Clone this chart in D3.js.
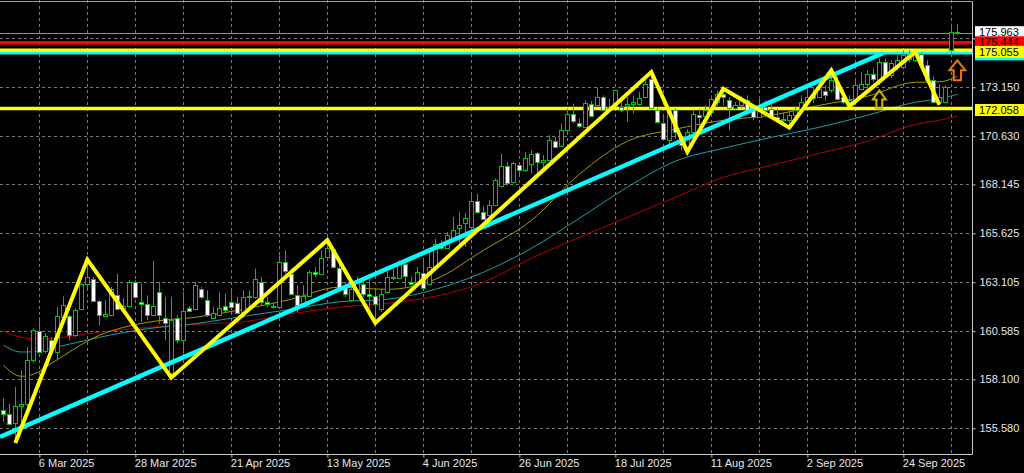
<!DOCTYPE html>
<html><head><meta charset="utf-8">
<script src="https://cdn.jsdelivr.net/npm/d3@7"></script>
<style>html,body{margin:0;padding:0;background:#000;overflow:hidden}</style>
</head><body>
<svg id="c" width="1024" height="473"></svg>
<script>
// ---- DATA (EUR/JPY daily) ----
const open=[156.51,156.34,155.85,156.72,156.82,159.08,160.59,159.56,160.15,159.50,
161.32,161.35,160.37,161.75,163.00,163.29,162.12,161.37,161.40,162.43,
161.75,161.87,163.12,162.09,162.01,161.40,162.60,161.28,158.45,161.28,
160.11,161.78,161.75,162.78,162.21,161.28,161.40,161.87,162.09,162.06,
161.57,162.32,162.35,163.12,162.09,161.88,161.83,164.15,163.52,162.43,
161.92,162.40,163.63,163.55,164.41,164.84,163.86,162.86,162.18,162.73,
163.04,162.52,162.40,161.75,162.60,163.37,163.34,164.03,163.12,163.04,
163.58,163.04,163.89,165.13,164.89,165.36,165.92,166.16,165.95,167.29,
166.73,166.56,167.07,168.05,169.08,168.27,169.13,168.91,169.22,169.77,
169.30,169.42,170.38,170.11,170.97,171.79,171.33,171.10,172.31,172.22,
172.65,172.00,172.17,172.13,172.17,172.31,172.31,172.65,173.60,171.97,
171.31,170.42,171.97,170.63,169.90,170.85,171.71,171.66,171.88,172.40,
172.80,172.48,172.10,172.22,172.48,172.05,171.62,172.13,172.05,171.62,
171.54,171.45,171.74,172.00,172.39,172.74,172.65,172.96,172.99,173.42,
172.65,172.39,172.50,173.08,173.30,173.82,173.42,174.45,173.77,174.23,
174.20,174.63,174.58,174.89,174.28,173.51,172.39,172.39,175.09,176.00];
const high=[157.13,156.85,157.71,158.57,159.77,160.73,161.30,160.48,160.27,161.83,
162.38,161.45,161.76,163.07,164.27,163.38,162.21,162.18,162.86,163.55,
162.30,163.21,163.21,163.05,162.43,164.20,163.12,162.35,162.35,161.40,
162.60,161.87,163.12,162.86,162.69,161.83,162.60,162.52,162.69,162.35,
162.69,162.69,163.81,163.38,162.35,162.09,164.49,164.75,163.81,162.95,
162.95,163.72,163.89,164.75,165.27,164.92,164.07,163.12,163.12,163.38,
163.29,163.31,162.79,162.78,163.81,163.81,164.24,164.32,163.38,163.89,
164.24,164.66,165.36,165.27,165.69,166.47,166.72,166.66,167.59,167.67,
167.02,167.33,168.45,169.73,169.30,169.30,169.30,169.82,169.90,169.82,
169.65,170.68,170.59,171.28,172.05,172.31,171.54,172.48,172.44,173.13,
172.74,172.57,173.03,172.48,172.65,172.74,172.91,173.51,173.94,172.10,
171.62,172.17,172.07,170.76,170.99,171.97,172.05,172.22,172.74,173.00,
173.08,172.65,172.39,172.69,172.74,172.22,172.65,172.48,172.48,172.05,
171.86,171.97,172.17,172.74,173.10,173.17,173.36,173.25,174.03,173.68,
172.99,172.74,173.61,173.92,174.03,174.13,174.64,174.64,174.54,174.80,
175.06,175.06,174.97,174.95,174.54,173.72,173.30,173.25,176.43,176.40];
const low=[155.91,155.74,154.82,155.65,156.34,158.98,159.45,159.45,159.50,159.08,
161.20,160.11,160.28,161.66,162.74,162.09,160.89,161.35,161.35,161.66,
161.60,161.83,162.26,161.06,161.15,161.35,160.97,160.11,158.19,159.95,
159.43,161.56,161.66,162.26,161.32,161.25,161.35,161.57,161.66,161.45,
161.25,161.83,162.26,161.92,161.83,161.75,161.75,163.55,162.43,161.57,
161.83,162.35,163.38,163.52,164.34,163.81,162.78,162.35,162.09,162.69,
162.35,161.76,161.01,161.57,162.52,163.21,163.29,162.86,162.95,162.95,
162.78,162.95,163.81,164.75,164.84,165.30,164.92,164.92,165.87,166.64,
166.30,165.95,167.02,167.98,168.10,168.20,168.62,168.79,168.73,168.45,
168.87,169.39,169.99,170.07,170.85,171.31,171.07,171.07,171.62,172.17,
171.93,171.88,172.13,171.88,171.36,171.80,172.22,172.57,172.07,171.28,
170.45,170.00,170.51,169.90,169.82,170.78,171.10,171.36,171.81,172.20,
172.22,170.93,171.97,172.07,171.86,171.45,171.59,171.71,171.54,171.45,
171.35,171.07,171.55,171.97,172.17,172.32,172.58,172.48,172.89,172.48,
172.27,172.17,172.45,173.00,173.10,173.41,173.25,173.61,173.61,174.03,
174.13,174.44,174.44,174.13,173.41,172.32,172.25,172.32,174.71,175.83];
const close=[156.30,155.82,156.72,156.82,159.08,160.63,159.51,160.36,159.60,161.35,
161.92,160.37,161.70,163.00,163.35,162.12,161.40,161.45,162.78,161.75,
161.87,163.12,162.32,162.00,161.40,161.88,161.40,161.01,161.15,160.11,
161.62,161.62,162.95,162.35,161.40,161.52,161.78,161.70,161.83,161.52,
162.32,162.40,163.29,162.09,162.00,161.83,164.15,163.69,162.49,161.92,
162.40,163.63,163.52,164.37,164.89,163.89,162.83,162.52,162.78,163.12,
162.52,162.40,161.97,162.49,163.37,163.30,164.03,163.42,163.04,163.63,
162.83,163.89,165.06,164.89,165.53,165.82,166.03,166.44,167.29,166.73,
166.38,167.07,168.36,169.08,168.22,169.25,168.91,169.53,169.70,169.30,
169.42,170.42,170.07,170.97,171.79,171.41,171.14,172.34,171.66,172.65,
172.00,172.12,172.99,171.97,172.31,172.39,172.62,173.34,172.10,171.36,
170.51,171.97,170.85,170.16,170.85,171.79,171.62,172.00,172.57,172.80,
172.63,172.10,172.26,172.48,172.00,171.62,172.17,171.97,171.62,171.54,
171.49,171.74,171.97,172.39,172.65,172.62,173.08,172.74,173.55,172.57,
172.39,172.48,173.29,173.34,173.82,173.60,174.45,173.77,174.40,174.54,
174.80,174.89,174.92,174.28,173.51,172.39,172.65,173.17,176.00,175.963];

// moving averages (read at selected bars)
const maIdx =[0,3,5,8,16,24,32,40,48,56,64,72,80,88,96,104,112,120,128,136,144,152,156,159];
const maFast=[158.83,158.26,158.36,158.93,160.37,161.04,161.30,161.71,162.23,162.85,162.74,163.26,164.75,166.29,168.67,170.37,170.99,171.45,171.71,172.22,172.69,173.41,173.43,173.72];
const maMid =[159.86,159.51,159.52,159.70,160.27,160.71,160.97,161.35,161.71,162.10,162.23,162.74,163.62,164.85,166.40,168.00,169.34,170.01,170.57,171.09,171.71,172.38,172.56,172.79];
const maSlow=[160.58,160.27,160.20,160.22,160.53,160.78,160.94,161.07,161.48,161.82,162.02,162.38,163.10,164.34,165.42,166.45,167.48,168.51,169.13,169.75,170.37,171.24,171.45,171.66];

// zigzag vertices
const zzIdx  =[2,14,28,54,62,108,114,120,131,138,141,152,156];
const zzPrice=[154.82,164.27,158.19,165.27,161.01,173.94,169.82,173.08,171.07,174.03,172.17,174.97,172.25];

// trend line
const trendIdx  =[-0.555,146.67];
const trendPrice=[155.13,174.92];

// horizontal levels
const bidPrice=175.963;
const levelPrices=[175.444,174.925,175.055,172.058];
const levelNames=["red","cyan","yellow","yellow"];
const levelLabelShown=[true,false,true,true];

// arrows: bar index, tip price, base price
const arrowIdx=[146,159];
const arrowTip=[172.99,174.54];
const arrowBase=[172.06,173.51];

// axis ticks (grid levels); the top one's label is hidden behind the price boxes
const yTickVals=[155.580,158.100,160.585,163.105,165.625,168.145,170.630,173.150,175.670];
const yTickShown=[true,true,true,true,true,true,true,true,false];
const xTickIdx=[6,22,38,54,70,86,102,118,134,150];
const xTickLabels=["6 Mar 2025","28 Mar 2025","21 Apr 2025","13 May 2025","4 Jun 2025","26 Jun 2025","18 Jul 2025","11 Aug 2025","2 Sep 2025","24 Sep 2025"];

// ---- DRAW ----
const W=1024,H=473,PR=972.5,PB=454.5;
const FONT="'Liberation Sans', Arial, sans-serif";
const x=d3.scaleLinear().domain([0,159]).range([3.33,957.33]);
const y=d3.scaleLinear().domain([155.58,173.15]).range([428.3,87.3]);
const px=i=>Math.round(x(i))+0.5;
const py=p=>Math.round(y(p))+0.5;

const svg=d3.select('#c');
svg.append('rect').attr('width',W).attr('height',H).attr('fill','#000');
svg.append('defs').append('clipPath').attr('id','plot')
  .append('rect').attr('x',0).attr('y',0).attr('width',PR).attr('height',PB);
const g=svg.append('g').attr('clip-path','url(#plot)');

// grid
g.selectAll(null).data(yTickVals).join('line')
  .attr('x1',0).attr('x2',PR).attr('y1',d=>py(d)).attr('y2',d=>py(d))
  .attr('stroke','#7a7a7a').attr('stroke-dasharray','3,3');
g.selectAll(null).data(d3.range(6,160,8)).join('line')
  .attr('x1',d=>px(d)).attr('x2',d=>px(d)).attr('y1',0).attr('y2',PB)
  .attr('stroke','#7a7a7a').attr('stroke-dasharray','3,3');

// moving averages
const maLine=arr=>d3.line().x((d,i)=>x(maIdx[i])).y(d=>y(d)).curve(d3.curveMonotoneX)(arr);
g.append('path').attr('d',maLine(maSlow)).attr('fill','none').attr('stroke','#b40000').attr('stroke-width',1);
g.append('path').attr('d',maLine(maMid)).attr('fill','none').attr('stroke','#1aa0a0').attr('stroke-width',1);
g.append('path').attr('d',maLine(maFast)).attr('fill','none').attr('stroke','#a09a00').attr('stroke-width',1);

// horizontal levels
const levelColor={red:'#ff0000',cyan:'#00ffff',yellow:'#ffff00'};
g.selectAll(null).data(levelPrices).join('line')
  .attr('x1',0).attr('x2',PR).attr('y1',d=>y(d)).attr('y2',d=>y(d))
  .attr('stroke',(d,i)=>levelColor[levelNames[i]]).attr('stroke-width',3.5);
// bid line
g.append('line').attr('x1',0).attr('x2',PR).attr('y1',py(bidPrice)).attr('y2',py(bidPrice))
  .attr('stroke','#8c8c8c').attr('stroke-width',1);

// candles
const bars=d3.range(open.length);
const green='#00c800';
g.selectAll(null).data(bars).join('line')
  .attr('x1',i=>px(i)).attr('x2',i=>px(i)).attr('y1',i=>y(high[i])).attr('y2',i=>y(low[i]))
  .attr('stroke',green).attr('stroke-width',1);
g.selectAll(null).data(bars).join('rect')
  .attr('x',i=>px(i)-2).attr('width',4)
  .attr('y',i=>Math.round(y(Math.max(open[i],close[i])))+0.5)
  .attr('height',i=>Math.max(0,Math.round(y(Math.min(open[i],close[i])))-Math.round(y(Math.max(open[i],close[i])))))
  .attr('fill',i=>close[i]>=open[i]?'#000':'#fff')
  .attr('stroke',green).attr('stroke-width',1);

// trend line
g.append('line').attr('x1',x(trendIdx[0])).attr('x2',x(trendIdx[1]))
  .attr('y1',y(trendPrice[0])).attr('y2',y(trendPrice[1]))
  .attr('stroke','#00ffff').attr('stroke-width',4.5);

// zigzag
g.append('path').attr('d',d3.line().x((d,i)=>x(zzIdx[i])).y(d=>y(d))(zzPrice))
  .attr('fill','none').attr('stroke','#ffff00').attr('stroke-width',4).attr('stroke-linejoin','miter');

// arrows
const arrowColor=['#d2b000','#e87800'];
const arrowW=[13,16];
arrowIdx.forEach((ai,k)=>{
  const cx=x(ai), t=y(arrowTip[k]), b=y(arrowBase[k]), w=arrowW[k]/2, sw=w*0.45, hb=t+(b-t)*0.5;
  const pts=[[cx,t],[cx+w,hb],[cx+sw,hb],[cx+sw,b],[cx-sw,b],[cx-sw,hb],[cx-w,hb]];
  g.append('path').attr('d',d3.line()(pts)+'Z').attr('fill','none')
   .attr('stroke',arrowColor[k]).attr('stroke-width',2).attr('stroke-linejoin','miter');
});

// frame
svg.append('line').attr('x1',0).attr('x2',PR).attr('y1',PB).attr('y2',PB).attr('stroke','#c8c8c8');
svg.append('line').attr('x1',PR).attr('x2',PR).attr('y1',1.5).attr('y2',PB).attr('stroke','#c8c8c8');
svg.append('line').attr('x1',0).attr('x2',PR).attr('y1',1.5).attr('y2',1.5).attr('stroke','#9a9a9a');

// right axis
const ya=svg.append('g').attr('transform',`translate(${PR},0)`)
  .call(d3.axisRight(y).tickValues(yTickVals)
    .tickFormat((d,i)=>yTickShown[i]?d3.format('.3f')(d):'').tickSize(3).tickPadding(4));
ya.select('.domain').remove();
ya.selectAll('line').attr('stroke','#c8c8c8');
ya.selectAll('text').attr('fill','#e6e6e6').style('font-family',FONT).style('font-size','11px');

// bottom axis
const xa=svg.append('g').attr('transform',`translate(0,${PB})`)
  .call(d3.axisBottom(x).tickValues(xTickIdx).tickFormat((d,i)=>xTickLabels[i]).tickSize(3).tickPadding(2));
xa.select('.domain').remove();
xa.selectAll('line').attr('stroke','#c8c8c8');
xa.selectAll('text').attr('fill','#e6e6e6').attr('text-anchor','start').attr('x',-1)
  .style('font-family',FONT).style('font-size','11px');

// price labels (drawn in the same stacking order as the reference)
const lab=svg.append('g');
function priceBox(p,fill,showText,off){
  const yy=y(p)+off;
  lab.append('rect').attr('x',975).attr('y',yy-6).attr('width',49).attr('height',12).attr('fill',fill);
  if(showText) lab.append('text').attr('x',979).attr('y',yy+4).text(d3.format('.3f')(p))
    .attr('fill','#000').style('font-family',FONT).style('font-size','11px');
}
priceBox(bidPrice,'#ffffff',true,-0.5);
const boxOff=[-0.5,1.5,1.5,1.5];
levelPrices.forEach((p,k)=>priceBox(p,levelColor[levelNames[k]],levelLabelShown[k],boxOff[k]));
</script>
</body></html>
